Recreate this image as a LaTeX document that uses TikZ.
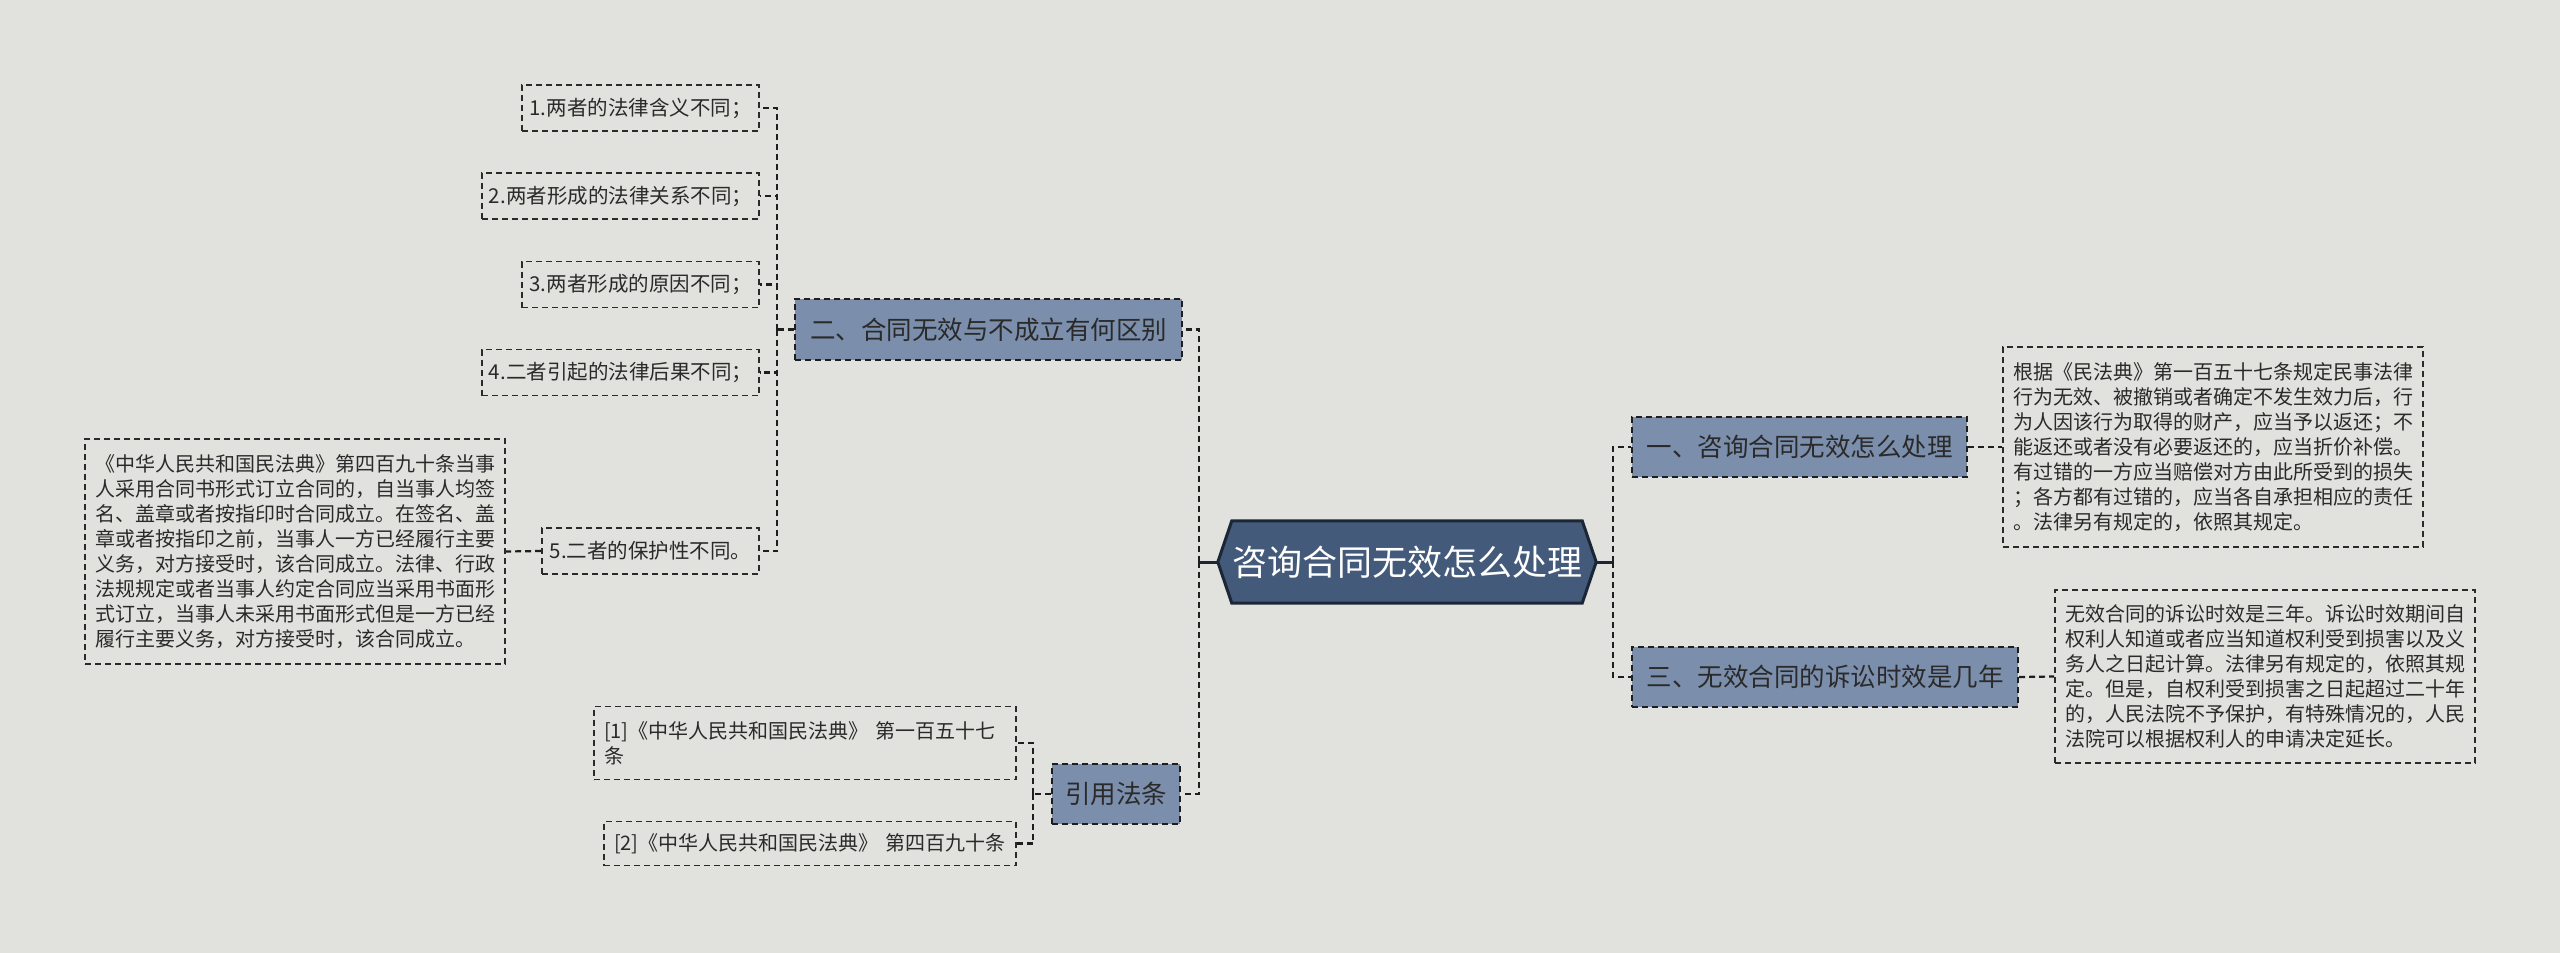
\documentclass[tikz,border=0pt]{standalone}
\usepackage{fontspec}
\setmainfont{Noto Sans CJK SC}
\usetikzlibrary{backgrounds}
\definecolor{bg}{HTML}{E1E2DD}
\definecolor{rootfill}{HTML}{445A7A}
\definecolor{rootline}{HTML}{1B2636}
\definecolor{brfill}{HTML}{7B8EAB}
\definecolor{ink}{HTML}{2A2A2A}
\definecolor{lineclr}{HTML}{1E1E1E}
\begin{document}
\begin{tikzpicture}[x=1pt,y=-1pt,
 rootnode/.style={inner sep=0pt, minimum width=378pt, minimum height=82pt, text=white, font=\fontsize{35}{42}\selectfont},
 rootshape/.style={fill=rootfill, draw=rootline, line width=3pt, line join=miter},
 branch/.style={draw=lineclr, fill=brfill, dash pattern=on 6pt off 4pt, line width=2.2pt, inner sep=0pt, text=ink, font=\fontsize{25.5}{30}\selectfont},
 leaf/.style={draw=ink, dash pattern=on 6pt off 4pt, line width=1.8pt, inner sep=0pt, text=ink, font=\fontsize{20.5}{25}\selectfont},
 detail/.style={leaf, align=left, font=\fontsize{20}{25}\selectfont},
 conn/.style={draw=lineclr, line width=2.2pt, dash pattern=on 6pt off 4pt},
 stub/.style={draw=rootline, line width=3pt},
]
\begin{pgfonlayer}{background}
\fill[bg] (0,0) rectangle (2560,953);
\end{pgfonlayer}
\useasboundingbox (0,0) rectangle (2560,953);

% root
\node[rootnode] (root) at (1407,562) {咨询合同无效怎么处理};
\begin{pgfonlayer}{background}
\draw[rootshape] (root.west) -- ([xshift=14pt]root.north west) -- ([xshift=-14pt]root.north east) -- (root.east) -- ([xshift=-14pt]root.south east) -- ([xshift=14pt]root.south west) -- cycle;
\end{pgfonlayer}

% branches
\node[branch, minimum width=387pt, minimum height=61pt] (b2) at (988.5,329.5) {二、合同无效与不成立有何区别};
\node[branch, minimum width=128pt, minimum height=60pt] (cite) at (1116,794) {引用法条};
\node[branch, minimum width=335pt, minimum height=60pt] (b1) at (1799.5,447) {一、咨询合同无效怎么处理};
\node[branch, minimum width=386pt, minimum height=60pt] (b3) at (1825,677) {三、无效合同的诉讼时效是几年};

% right details
\node[detail, text width=400pt, minimum width=420pt, minimum height=200pt] (d1) at (2213,447) {根据《民法典》第一百五十七条规定民事法律\\行为无效、被撤销或者确定不发生效力后，行\\为人因该行为取得的财产，应当予以返还；不\\能返还或者没有必要返还的，应当折价补偿。\\有过错的一方应当赔偿对方由此所受到的损失\\；各方都有过错的，应当各自承担相应的责任\\。法律另有规定的，依照其规定。};
\node[detail, text width=400pt, minimum width=420pt, minimum height=173pt] (d3) at (2265,676.5) {无效合同的诉讼时效是三年。诉讼时效期间自\\权利人知道或者应当知道权利受到损害以及义\\务人之日起计算。法律另有规定的，依照其规\\定。但是，自权利受到损害之日起超过二十年\\的，人民法院不予保护，有特殊情况的，人民\\法院可以根据权利人的申请决定延长。};

% items
\node[leaf, minimum width=237pt, minimum height=46pt] (i1) at (640.5,108) {1.两者的法律含义不同；};
\node[leaf, minimum width=277pt, minimum height=46pt] (i2) at (620.5,196) {2.两者形成的法律关系不同；};
\node[leaf, minimum width=237pt, minimum height=46pt] (i3) at (640.5,284.5) {3.两者形成的原因不同；};
\node[leaf, minimum width=277pt, minimum height=46pt] (i4) at (620.5,372.5) {4.二者引起的法律后果不同；};
\node[leaf, minimum width=217pt, minimum height=46pt] (i5) at (650.5,551) {5.二者的保护性不同。};
\node[detail, text width=400pt, minimum width=420pt, minimum height=225pt] (d5) at (295,551.5) {《中华人民共和国民法典》第四百九十条当事\\人采用合同书形式订立合同的，自当事人均签\\名、盖章或者按指印时合同成立。在签名、盖\\章或者按指印之前，当事人一方已经履行主要\\义务，对方接受时，该合同成立。法律、行政\\法规规定或者当事人约定合同应当采用书面形\\式订立，当事人未采用书面形式但是一方已经\\履行主要义务，对方接受时，该合同成立。};

% citations
\node[detail, text width=402pt, minimum width=422pt, minimum height=73pt] (c1) at (805,743) {[1]《中华人民共和国民法典》 第一百五十七\\条};
\node[detail, text width=392pt, minimum width=412pt, minimum height=44pt] (c2) at (810,843.5) {[2]《中华人民共和国民法典》 第四百九十条};

% trunk coordinates
\coordinate (tL) at (1199,562);
\coordinate (tR) at (1613,562);
\coordinate (tA) at (777,329.5);
\coordinate (tC) at (1033,794);

% connectors
\draw[stub] (root.west) -- (tL);
\draw[stub] (root.east) -- (tR);
\draw[conn] (tL) |- (b2.east);
\draw[conn] (tL) |- (cite.east);
\draw[conn] (tR) |- (b1.west);
\draw[conn] (tR) |- (b3.west);
\draw[conn] (b1.east) -- (d1.west);
\draw[conn] (b3.east) -- (d3.west);
\draw[conn] (b2.west) -- (tA);
\draw[conn] (tA) |- (i1.east);
\draw[conn] (tA) |- (i2.east);
\draw[conn] (tA) |- (i3.east);
\draw[conn] (tA) |- (i4.east);
\draw[conn] (tA) |- (i5.east);
\draw[conn] (i5.west) -- (d5.east);
\draw[conn] (cite.west) -- (tC);
\draw[conn] (tC) |- (c1.east);
\draw[conn] (tC) |- (c2.east);
\end{tikzpicture}
\end{document}
